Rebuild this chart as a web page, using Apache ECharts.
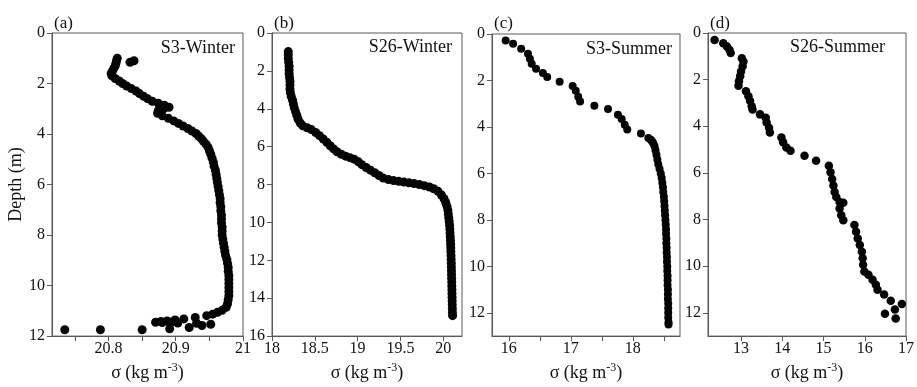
<!DOCTYPE html>
<html>
<head>
<meta charset="utf-8">
<script src="https://cdn.jsdelivr.net/npm/echarts@6/dist/echarts.min.js"></script>
<style>html,body{margin:0;padding:0;background:#fff;}#c{width:917px;height:387px;}</style>
</head>
<body>
<div id="c"></div>
<script>
// ---------- DATA (sigma, depth) ----------
const panelLetters = ['(a)', '(b)', '(c)', '(d)'];
const panelTitles = ['S3-Winter', 'S26-Winter', 'S3-Summer', 'S26-Summer'];

const aSigma = [20.813,20.812,20.811,20.810,20.808,20.806,20.804,20.805,20.810,20.816,20.821,20.827,20.834,20.841,20.846,20.852,20.858,20.865,20.874,20.883,20.890,20.882,20.874,20.873,20.880,20.889,20.897,20.904,20.911,20.918,20.924,20.930,20.934,20.938,20.941,20.945,20.948,20.950,20.952,20.954,20.956,20.957,20.959,20.960,20.961,20.962,20.963,20.964,20.965,20.966,20.966,20.967,20.967,20.968,20.968,20.968,20.969,20.969,20.969,20.970,20.971,20.972,20.973,20.974,20.976,20.977,20.978,20.978,20.979,20.979,20.979,20.979,20.979,20.979,20.978,20.977,20.975,20.969,20.962,20.955,20.946,
  20.838,20.832,20.929,20.912,20.899,20.887,20.878,20.870,20.880,20.893,20.903,20.891,20.920,20.939,20.952,20.931,20.850,20.788,20.735];
const aDepth = [1.00,1.10,1.20,1.30,1.40,1.50,1.60,1.70,1.80,1.90,2.00,2.10,2.20,2.30,2.40,2.50,2.60,2.70,2.78,2.86,2.94,3.00,3.08,3.18,3.28,3.38,3.48,3.58,3.68,3.78,3.88,3.98,4.08,4.18,4.28,4.40,4.52,4.66,4.80,4.96,5.12,5.28,5.44,5.60,5.76,5.92,6.08,6.24,6.40,6.56,6.72,6.88,7.04,7.20,7.36,7.52,7.68,7.84,8.00,8.16,8.32,8.48,8.64,8.80,8.96,9.12,9.28,9.44,9.60,9.76,9.92,10.08,10.24,10.40,10.56,10.72,10.86,10.98,11.06,11.13,11.19,
  1.10,1.16,11.26,11.32,11.36,11.40,11.42,11.45,11.46,11.44,11.48,11.71,11.66,11.58,11.53,11.49,11.75,11.75,11.75];

const bSigma = [18.19,18.19,18.19,18.195,18.20,18.20,18.20,18.205,18.21,18.21,18.21,18.215,18.225,18.24,18.25,18.26,18.275,18.29,18.305,18.33,18.36,18.41,18.46,18.51,18.555,18.60,18.64,18.68,18.72,18.76,18.81,18.86,18.91,18.96,19.01,19.05,19.10,19.15,19.20,19.25,19.30,19.36,19.42,19.48,19.54,19.60,19.66,19.72,19.78,19.84,19.89,19.94,19.98,20.01,20.03,20.045,20.055,20.06,20.065,20.07,20.075,20.078,20.08,20.083,20.085,20.087,20.089,20.09,20.092,20.093,20.095,20.096,20.097,20.098,20.099,20.10,20.101,20.102,20.103,20.104,20.105,20.106,20.107,20.108,20.11];
const bDepth = [0.98,1.15,1.35,1.55,1.75,1.95,2.15,2.35,2.55,2.75,2.95,3.15,3.35,3.55,3.75,3.95,4.15,4.35,4.55,4.75,4.90,5.00,5.10,5.25,5.42,5.60,5.77,5.95,6.12,6.27,6.40,6.50,6.58,6.66,6.80,6.95,7.10,7.24,7.38,7.52,7.66,7.74,7.79,7.83,7.87,7.91,7.95,8.00,8.06,8.13,8.22,8.36,8.55,8.75,8.95,9.15,9.35,9.55,9.75,9.95,10.15,10.35,10.55,10.75,10.95,11.15,11.35,11.55,11.75,11.95,12.15,12.35,12.55,12.75,12.95,13.15,13.35,13.55,13.75,13.95,14.15,14.35,14.55,14.75,14.92];

const cSigma = [15.95,16.07,16.20,16.31,16.34,16.37,16.44,16.55,16.62,16.82,17.03,17.08,17.12,17.15,17.38,17.60,17.76,17.82,17.87,17.91,18.13,18.25,18.29,18.31,18.33,18.35,18.365,18.38,18.395,18.41,18.43,18.45,18.465,18.475,18.485,18.49,18.50,18.505,18.51,18.515,18.52,18.525,18.53,18.535,18.535,18.54,18.54,18.545,18.545,18.55,18.55,18.555,18.555,18.56,18.56,18.56,18.565,18.565,18.565,18.57,18.57,18.57,18.57,18.575,18.575];
const cDepth = [0.28,0.42,0.63,0.85,1.07,1.28,1.50,1.68,1.85,2.06,2.24,2.44,2.70,2.91,3.09,3.23,3.47,3.66,3.90,4.11,4.28,4.47,4.55,4.62,4.70,4.83,5.00,5.20,5.40,5.60,5.80,6.00,6.20,6.40,6.60,6.80,7.00,7.20,7.40,7.60,7.80,8.00,8.20,8.40,8.60,8.80,9.00,9.20,9.40,9.60,9.80,10.00,10.20,10.40,10.60,10.80,11.00,11.20,11.40,11.60,11.80,12.00,12.20,12.40,12.50];

const dSigma = [12.36,12.57,12.66,12.72,12.75,13.02,13.06,13.04,13.00,12.98,12.95,12.94,13.12,13.18,13.22,13.26,13.28,13.46,13.60,13.62,13.68,13.70,13.98,14.02,14.10,14.20,14.54,14.82,15.13,15.17,15.21,15.24,15.27,15.31,15.39,15.48,15.39,15.43,15.48,15.75,15.79,15.83,15.88,15.93,15.95,15.96,15.99,16.09,16.19,16.27,16.31,16.47,16.63,16.90,16.73,16.49,16.75];
const dDepth = [0.30,0.44,0.58,0.72,0.86,1.08,1.22,1.43,1.65,1.86,2.07,2.26,2.50,2.71,2.92,3.14,3.28,3.49,3.63,3.84,4.06,4.27,4.48,4.69,4.91,5.05,5.26,5.48,5.69,5.97,6.26,6.54,6.82,7.03,7.25,7.28,7.53,7.82,8.03,8.24,8.52,8.81,9.09,9.38,9.66,9.94,10.23,10.37,10.58,10.80,11.01,11.22,11.48,11.62,11.86,12.04,12.24];

// axis ticks / labels
const xMin = [20.716, 18, 15.73, 12.2];
const xMax = [21, 20.22, 18.76, 17];
const xTicks = [[20.75,20.8,20.85,20.9,20.95,21],[18,18.5,19,19.5,20],[16,16.5,17,17.5,18,18.5],[13,14,15,16,17]];
const xLabels = [[20.8,20.9,21],[18,18.5,19,19.5,20],[16,17,18],[13,14,15,16,17]];
const yMax = [12, 16, 13, 13];
const yLabels = [[0,2,4,6,8,10,12],[0,2,4,6,8,10,12,14,16],[0,2,4,6,8,10,12],[0,2,4,6,8,10,12]];
const yName = 'Depth (m)';

// ---------- LAYOUT ----------
const FF = '"Liberation Serif","Times New Roman",serif';
const grids = [
  {left: 52, top: 33, width: 191, height: 305},
  {left: 272, top: 33, width: 190, height: 304},
  {left: 492, top: 34, width: 188, height: 306},
  {left: 708, top: 33, width: 199, height: 306}
];
const titleRight = [235, 452, 672, 885];
const titleY = [48, 47, 49, 47];
const symSizes = [9, 9, 8, 8.5];
const sigmas = [aSigma, bSigma, cSigma, dSigma];
const depths = [aDepth, bDepth, cDepth, dDepth];
const AX = '#5a5a5a';
const fmt = v => String(+(+v).toFixed(2));

const option = {
  animation: false,
  backgroundColor: '#fff',
  grid: grids.map(g => Object.assign({show: true, borderColor: AX, borderWidth: 1, containLabel: false}, g)),
  xAxis: grids.map((g, i) => ({
    gridIndex: i, type: 'value', position: 'bottom',
    min: xMin[i], max: xMax[i],
    splitLine: {show: false},
    axisLine: {show: true, onZero: false, lineStyle: {color: AX, width: 1}},
    axisTick: {show: true, inside: false, length: 5, customValues: xTicks[i], lineStyle: {color: AX}},
    axisLabel: {customValues: xLabels[i], formatter: fmt, color: '#111', fontFamily: FF, fontSize: 16, margin: 5, showMinLabel: true, showMaxLabel: true},
    name: '{a|σ (kg m}{s|-3}{a|)}',
    nameLocation: 'middle', nameGap: 22,
    nameTextStyle: {
      rich: {
        a: {fontFamily: FF, fontSize: 18, color: '#111', verticalAlign: 'bottom'},
        s: {fontFamily: FF, fontSize: 12, color: '#111', verticalAlign: 'bottom', padding: [0, 0, 8, 0]}
      }
    }
  })),
  yAxis: grids.map((g, i) => ({
    gridIndex: i, type: 'value', inverse: true,
    min: 0, max: yMax[i],
    splitLine: {show: false},
    axisLine: {show: true, onZero: false, lineStyle: {color: AX, width: 1}},
    axisTick: {show: true, inside: false, length: 5, customValues: yLabels[i], lineStyle: {color: AX}},
    axisLabel: {customValues: yLabels[i], color: '#111', fontFamily: FF, fontSize: 16, margin: 7, showMinLabel: true, showMaxLabel: true},
    name: i === 0 ? yName : '',
    nameLocation: 'middle', nameGap: 25, nameRotate: 90,
    nameTextStyle: {fontFamily: FF, fontSize: 18, color: '#111'}
  })),
  series: grids.map((g, i) => ({
    type: 'scatter', xAxisIndex: i, yAxisIndex: i,
    symbol: 'circle', symbolSize: symSizes[i],
    itemStyle: {color: '#050505', opacity: 1},
    silent: true,
    data: sigmas[i].map((s, k) => [s, depths[i][k]])
  })),
  graphic: [].concat(
    grids.map((g, i) => ({
      type: 'text', left: g.left + 2, top: 15,
      style: {text: panelLetters[i], font: '17px ' + FF, fill: '#111'}
    })),
    grids.map((g, i) => ({
      type: 'text', x: titleRight[i], y: titleY[i],
      style: {text: panelTitles[i], font: '18px ' + FF, fill: '#111', align: 'right', verticalAlign: 'middle'}
    }))
  )
};

const chart = echarts.init(document.getElementById('c'), null, {renderer: 'canvas'});
chart.setOption(option);
</script>
</body>
</html>
